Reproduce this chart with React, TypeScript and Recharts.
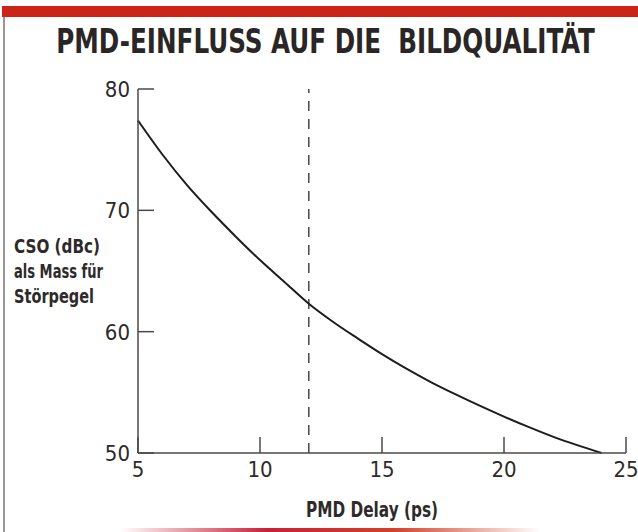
import React from "react";
import { LineChart, Line, XAxis, YAxis, ReferenceLine } from "recharts";

// PMD delay in ps
const delays = [5, 6, 7, 8, 9, 10, 11, 12, 13, 14, 15, 16, 17, 18, 19, 20, 21, 22, 23, 24];
// CSO in dBc
const csoValues = [
  77.4, 74.6, 72.1, 69.9, 67.85, 65.9, 64.1, 62.3, 60.8, 59.45, 58.15, 56.95, 55.85, 54.85, 53.9,
  53.0, 52.15, 51.35, 50.65, 50.0,
];
const xTicks = [5, 10, 15, 20, 25];
const yTicks = [50, 60, 70, 80];
const markerDelay = 12;

const data = delays.map((d, i) => ({ delay: d, cso: csoValues[i] }));

const FONT = "'DejaVu Sans Condensed', 'Liberation Sans', sans-serif";
const FRAME = "#4d4949";
const INK = "#2e2a2a";
const TICK_LEN = 16;

const BottomTick = (props: any) => {
  const { x, y, payload } = props;
  const axisY = y - 8;
  return (
    <g>
      <line x1={x} y1={axisY} x2={x} y2={axisY - TICK_LEN} stroke={FRAME} strokeWidth={1.5} />
      <text x={x} y={y} dy="0.74em" textAnchor="middle" fontSize={22} fill={INK} fontFamily={FONT}>
        {payload.value}
      </text>
    </g>
  );
};

const TopTick = (props: any) => {
  const { x, y } = props;
  return <line x1={x} y1={y} x2={x} y2={y + TICK_LEN} stroke={FRAME} strokeWidth={1.5} />;
};

const LeftTick = (props: any) => {
  const { x, y, payload } = props;
  const axisX = x + 8;
  return (
    <g>
      <line x1={axisX} y1={y} x2={axisX + TICK_LEN} y2={y} stroke={FRAME} strokeWidth={1.5} />
      <text x={x} y={y} dy="0.36em" textAnchor="end" fontSize={22} fill={INK} fontFamily={FONT}>
        {payload.value}
      </text>
    </g>
  );
};

const RightTick = (props: any) => {
  const { x, y } = props;
  return <line x1={x} y1={y} x2={x - TICK_LEN} y2={y} stroke={FRAME} strokeWidth={1.5} />;
};

const XTitle = (props: any) => {
  const { viewBox } = props;
  const cx = viewBox.x + viewBox.width / 2 - 10;
  return (
    <text
      x={cx - 66}
      y={viewBox.y + 64}
      fontSize={21}
      fontWeight="bold"
      fill={INK}
      fontFamily={FONT}
      textLength={132}
      lengthAdjust="spacingAndGlyphs"
    >
      PMD Delay (ps)
    </text>
  );
};

const yTitleLines = [
  { text: "CSO (dBc)", width: 86 },
  { text: "als Mass für", width: 89 },
  { text: "Störpegel", width: 80 },
];

const YTitle = () => (
  <g>
    {yTitleLines.map((l, i) => (
      <text
        key={l.text}
        x={14}
        y={253 + i * 25}
        fontSize={20}
        fontWeight="bold"
        fill={INK}
        fontFamily={FONT}
        textLength={l.width}
        lengthAdjust="spacingAndGlyphs"
      >
        {l.text}
      </text>
    ))}
  </g>
);

export default function App() {
  return (
    <div style={{ position: "absolute", left: 0, top: 0, width: 638, height: 532, background: "#fff", overflow: "hidden" }}>
      <div style={{ position: "absolute", left: 2, top: 6, width: 636, height: 11, background: "#cc2418" }} />
      <div style={{ position: "absolute", left: 3, top: 17, width: 1.5, height: 515, background: "#9a9696" }} />
      <div
        style={{
          position: "absolute",
          left: 120,
          top: 528,
          width: 420,
          height: 4,
          background: "linear-gradient(to right, rgba(204,36,24,0), #c8203a 35%, #d2402a 65%, rgba(204,36,24,0))",
        }}
      />
      <div
        style={{
          position: "absolute",
          left: 0,
          width: 651,
          top: 22,
          textAlign: "center",
          fontFamily: FONT,
          fontWeight: "bold",
          fontSize: 33,
          color: "#2a2626",
          whiteSpace: "pre",
          transform: "scaleX(0.83)",
          transformOrigin: "325.5px 50%",
        }}
      >
        PMD-EINFLUSS AUF DIE  BILDQUALITÄT
      </div>
      <div style={{ position: "absolute", left: 0, top: 0 }}>
        <LineChart width={638} height={532} data={data} margin={{ top: 89, right: 12, bottom: 0, left: 0 }}>
          <XAxis
            dataKey="delay"
            type="number"
            domain={[5, 25]}
            ticks={xTicks}
            interval={0}
            height={79}
            tickSize={0}
            tickMargin={8}
            tickLine={false}
            axisLine={{ stroke: FRAME, strokeWidth: 1.5 }}
            tick={BottomTick}
            label={{ content: (p: any) => <XTitle {...p} /> }}
          />
          <XAxis
            xAxisId="top"
            orientation="top"
            dataKey="delay"
            type="number"
            domain={[5, 25]}
            ticks={xTicks}
            interval={0}
            height={0}
            tickSize={0}
            tickMargin={0}
            tickLine={false}
            axisLine={{ stroke: FRAME, strokeWidth: 1.5 }}
            tick={TopTick}
          />
          <YAxis
            type="number"
            domain={[50, 80]}
            ticks={yTicks}
            interval={0}
            width={138}
            tickSize={0}
            tickMargin={8}
            tickLine={false}
            axisLine={{ stroke: FRAME, strokeWidth: 1.5 }}
            tick={LeftTick}
            label={{ content: () => <YTitle /> }}
          />
          <YAxis
            yAxisId="right"
            orientation="right"
            type="number"
            domain={[50, 80]}
            ticks={yTicks}
            interval={0}
            width={0}
            tickSize={0}
            tickMargin={0}
            tickLine={false}
            axisLine={{ stroke: FRAME, strokeWidth: 1.5 }}
            tick={RightTick}
          />
          <ReferenceLine x={markerDelay} stroke="#4a4646" strokeWidth={1.5} strokeDasharray="10 8" />
          <Line
            type="monotone"
            dataKey="cso"
            stroke="#1e1c1c"
            strokeWidth={2}
            dot={false}
            isAnimationActive={false}
          />
        </LineChart>
      </div>
    </div>
  );
}
